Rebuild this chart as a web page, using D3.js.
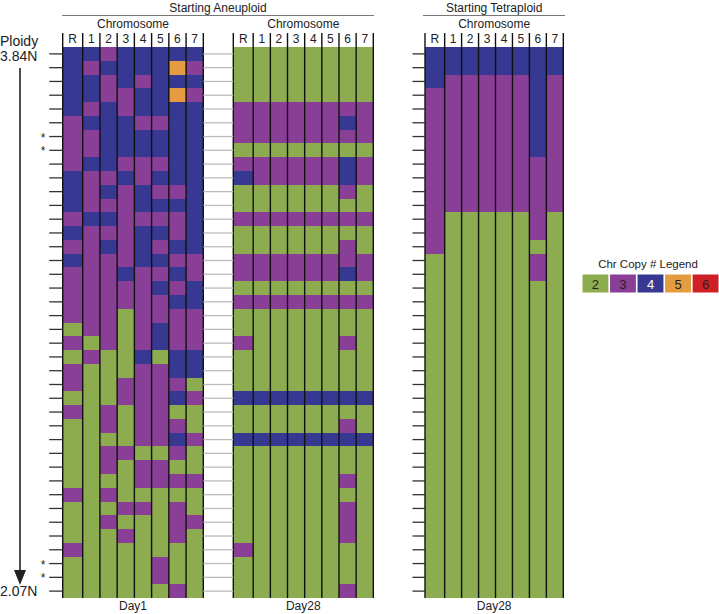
<!DOCTYPE html>
<html><head><meta charset="utf-8">
<script src="https://cdn.jsdelivr.net/npm/d3@7"></script>
<style>
body{margin:0;background:#fff}
svg{font-family:"Liberation Sans",Arial,Helvetica,sans-serif}
</style>
</head><body>
<svg id="chart" width="719" height="614"></svg>
<script>
// ---------- DATA ----------
const columns = ["R","1","2","3","4","5","6","7"];
const copyLevels = [2,3,4,5,6];
const copyColors = ["#8dab4f","#8a3f97","#363892","#e59b3f","#cf2027"];
const legendTitle = "Chr Copy # Legend";
const ploidyTop = "3.84N", ploidyBottom = "2.07N";
const starredRows = [6,7,37,38];

// each string = copy numbers for R,1..7 of one isolate (top = highest ploidy)
const aneuploidDay1 = [
"44344444","43444453","44343444","44334453","43434444",
"34443344","33444444","33444444","34433344","43343444",
"43434334","43334444","34433334","43334434","33434344",
"43334433","33343343","33333434","33333344","33323333",
"23323433","32323433","23224244","32223344","32233332",
"22233343","32323322","22323332","22223343","22332232",
"22323322","22223333","32322222","22233232","22322233",
"22232232","32222222","22222322","22222322","22222232"];
const aneuploidDay28 = [
"22222222","22222222","22222222","22222222","33333333",
"33333343","33333333","22222222","33333343","43333343",
"22222232","22222222","33333333","22222222","22222232",
"33333333","33333343","22222222","33333333","22222222",
"22222222","32222232","22222222","22222222","22222222",
"44444444","22222222","22222232","44444444","22222222",
"22222222","22222232","22222222","22222232","22222232",
"22222232","32222222","22222222","22222222","22222232"];
const tetraploidDay28 = [
"44444444","44444444","43333343","33333343","33333343",
"33333343","33333343","33333343","33333333","33333333",
"33333333","33333333","32222232","32222232","32222222",
"22222232","22222232","22222222","22222222","22222222",
"22222222","22222222","22222222","22222222","22222222",
"22222222","22222222","22222222","22222222","22222222",
"22222222","22222222","22222222","22222222","22222222",
"22222222","22222222","22222222","22222222","22222222"];

const panels = [
  {data: aneuploidDay1, label:"Day1", left:62.7, right:203.3},
  {data: aneuploidDay28, label:"Day28", left:233.3, right:373.3},
  {data: tetraploidDay28, label:"Day28", left:425, right:563.3}
];

// ---------- DRAW ----------
const svg = d3.select("#chart");
const plotTop = 47, plotBottom = 598;
const rows = d3.range(aneuploidDay1.length);
const y = d3.scaleBand().domain(rows).range([plotTop, plotBottom]).padding(0);
const color = d3.scaleOrdinal().domain(copyLevels).range(copyColors);
const rWide = 0.16; // R column is slightly wider
const edgeUnit = i => i === 0 ? 0 : i + rWide;

panels.forEach(p => {
  const x = d3.scaleLinear().domain([0, columns.length + rWide]).range([p.left, p.right]);
  const cells = [];
  p.data.forEach((s, r) => s.split("").forEach((v, c) => cells.push({r, c, v:+v})));
  const g = svg.append("g");
  g.selectAll("rect").data(cells).join("rect")
    .attr("x", d => x(edgeUnit(d.c)))
    .attr("width", d => x(edgeUnit(d.c+1)) - x(edgeUnit(d.c)) + 0.3)
    .attr("y", d => y(d.r))
    .attr("height", y.bandwidth() + 0.4)
    .attr("fill", d => color(d.v))
    .attr("shape-rendering","crispEdges");
  g.selectAll("line.div").data(d3.range(columns.length+1)).join("line")
    .attr("class","div")
    .attr("x1", i => x(edgeUnit(i))).attr("x2", i => x(edgeUnit(i)))
    .attr("y1", 33).attr("y2", plotBottom)
    .attr("stroke","#111").attr("stroke-width",1.4);
  g.selectAll("text.col").data(columns).join("text")
    .attr("class","col")
    .attr("x", (d,i) => (x(edgeUnit(i)) + x(edgeUnit(i+1)))/2)
    .attr("y", 43).attr("text-anchor","middle")
    .attr("font-size",12).attr("fill","#222").text(d => d);
  g.append("text").attr("x",(p.left+p.right)/2).attr("y",28)
    .attr("text-anchor","middle").attr("font-size",12).attr("fill","#222").text("Chromosome");
  g.append("text").attr("x",(p.left+p.right)/2).attr("y",610)
    .attr("text-anchor","middle").attr("font-size",12).attr("fill","#222").text(p.label);
});

svg.append("text").attr("x",(62.7+373.3)/2).attr("y",12).attr("text-anchor","middle")
  .attr("font-size",12).attr("fill","#222").text("Starting Aneuploid");
svg.append("line").attr("x1",62).attr("x2",374).attr("y1",15.5).attr("y2",15.5)
  .attr("stroke","#777").attr("stroke-width",1.2);
svg.append("text").attr("x",(425+563.3)/2).attr("y",12).attr("text-anchor","middle")
  .attr("font-size",12).attr("fill","#222").text("Starting Tetraploid");
svg.append("line").attr("x1",423).attr("x2",565).attr("y1",15.5).attr("y2",15.5)
  .attr("stroke","#777").attr("stroke-width",1.2);

function ticks(xpos, size, col){
  const a = d3.axisLeft(y).tickFormat("").tickSize(size).tickSizeOuter(0);
  const g = svg.append("g").attr("transform",`translate(${xpos},0)`).call(a);
  g.select(".domain").remove();
  g.selectAll(".tick line").attr("stroke",col).attr("stroke-width",1.3);
}
ticks(62.7, 13.5, "#333");
ticks(233.3, 30, "#bbb");
ticks(425, 12.5, "#333");

svg.append("text").attr("x",0).attr("y",46).attr("font-size",14).attr("fill","#222").text("Ploidy");
svg.append("text").attr("x",0).attr("y",61).attr("font-size",14).attr("fill","#222").text(ploidyTop);
svg.append("text").attr("x",0).attr("y",596).attr("font-size",14).attr("fill","#222").text(ploidyBottom);
svg.append("line").attr("x1",20).attr("x2",20).attr("y1",68).attr("y2",574)
  .attr("stroke","#222").attr("stroke-width",1.6);
svg.append("path").attr("d","M14,570 L26,570 L20,585 Z").attr("fill","#222");
svg.selectAll("text.star").data(starredRows).join("text").attr("class","star")
  .attr("x",43).attr("y", d => y(d)+y.bandwidth()/2+5).attr("text-anchor","middle")
  .attr("font-size",12).attr("fill","#222").text("*");

svg.append("text").attr("x",648).attr("y",268).attr("text-anchor","middle")
  .attr("font-size",11.5).attr("fill","#222").text(legendTitle);
const lx = d3.scaleBand().domain(copyLevels).range([582.5, 718.5]).paddingInner(0.06);
const lg = svg.append("g");
lg.selectAll("rect").data(copyLevels).join("rect")
  .attr("x", d => lx(d)).attr("y",274.5).attr("width",lx.bandwidth()).attr("height",18)
  .attr("fill", d => color(d));
lg.selectAll("text").data(copyLevels).join("text")
  .attr("x", d => lx(d)+lx.bandwidth()/2).attr("y",288.5).attr("text-anchor","middle")
  .attr("font-size",13).attr("fill", d => d===4 ? "#fff" : "#222").text(d => d);
</script>
</body></html>
